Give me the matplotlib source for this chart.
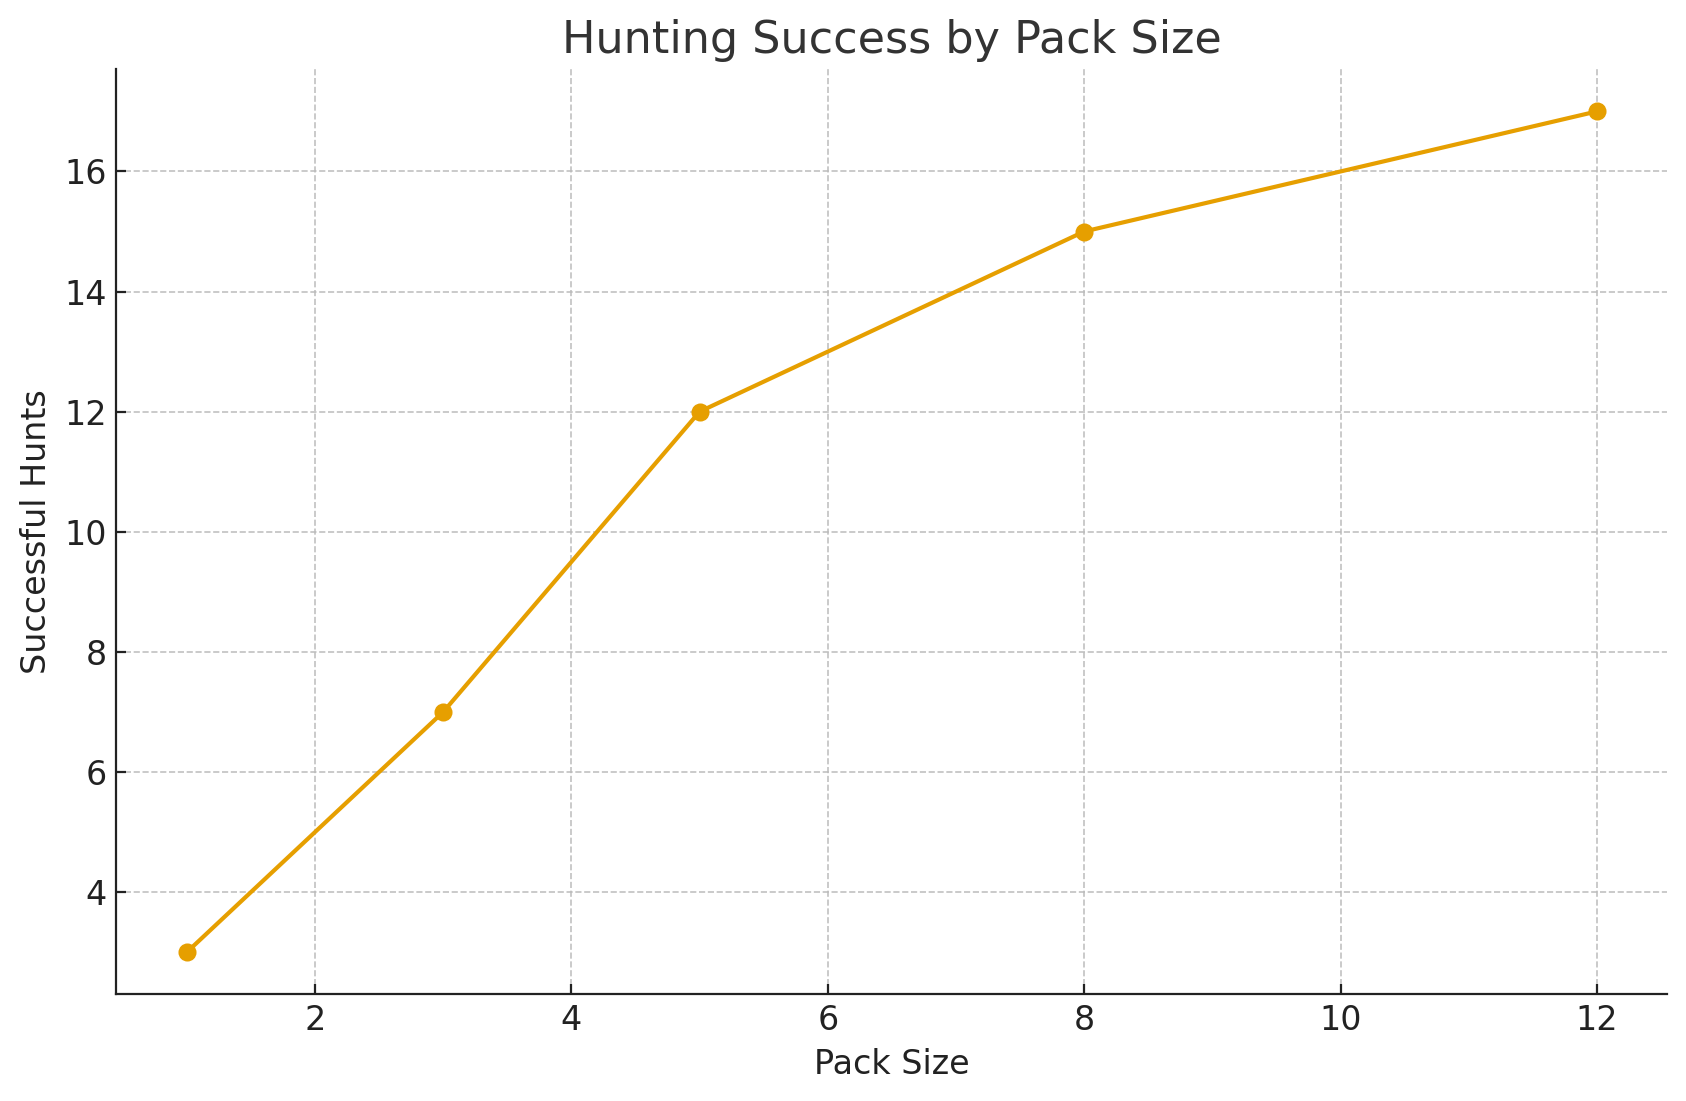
import matplotlib
matplotlib.use("Agg")
import matplotlib.pyplot as plt

pack_size = [1, 3, 5, 8, 12]
successful_hunts = [3, 7, 12, 15, 17]

fig, ax = plt.subplots(figsize=(8.43, 5.505), dpi=200)
fig.subplots_adjust(left=0.069, right=0.989, top=0.937, bottom=0.097)

ax.plot(pack_size, successful_hunts, marker='o', color='#E69F00',
        linewidth=1.5, markersize=5.5)

ax.set_title("Hunting Success by Pack Size", fontsize=16, color='#333333')
ax.set_xlabel("Pack Size", fontsize=12, color='#222222')
ax.set_ylabel("Successful Hunts", fontsize=12, color='#222222')
ax.tick_params(direction='in', labelsize=12, colors='#222222')

ax.grid(True, linestyle='--', linewidth=0.6, color='#bbbbbb', alpha=0.9)
ax.spines['top'].set_visible(False)
ax.spines['right'].set_visible(False)
for s in ('left', 'bottom'):
    ax.spines[s].set_color('#222222')

fig.savefig("out.png", dpi=200)
